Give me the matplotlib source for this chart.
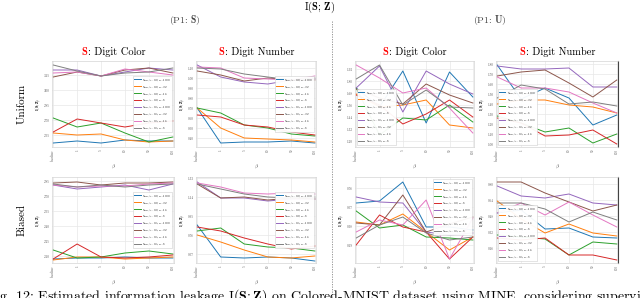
import matplotlib.pyplot as plt
from matplotlib.offsetbox import TextArea, HPacker, AnchoredOffsetbox
from matplotlib.lines import Line2D
from matplotlib.ticker import MultipleLocator, FormatStrFormatter

plt.rcParams['font.family'] = ['cmr10', 'DejaVu Serif']
plt.rcParams['mathtext.fontset'] = 'cm'
plt.rcParams['axes.formatter.use_mathtext'] = True

# x axis (beta) and legend entries
betas = ['baseline', '1', '5', '10', '50', '100']
labels = [r'Sup, $\lambda$=0.0, n=1000', r'Sup, $\lambda$=0.0, n=32',
          r'Sup, $\lambda$=0.0, n=16', r'Sup, $\lambda$=0.0, n=8',
          r'Sup, $\lambda$=0.5, n=1000', r'Sup, $\lambda$=0.5, n=32',
          r'Sup, $\lambda$=0.5, n=16', r'Sup, $\lambda$=0.5, n=8']
colors = ['#1f77b4', '#ff7f0e', '#2ca02c', '#d62728',
          '#9467bd', '#8c564b', '#e377c2', '#7f7f7f']

# Uniform, P1:S, S = digit color
uni_s_color = [
    [2.47, 2.49, 2.47, 2.50, 2.49, 2.49],
    [2.57, 2.55, 2.56, 2.50, 2.48, 2.49],
    [2.72, 2.63, 2.67, 2.57, 2.48, 2.53],
    [2.58, 2.71, 2.67, 2.63, 2.67, 2.69],
    [3.20, 3.20, 3.14, 3.18, 3.22, 3.20],
    [3.13, 3.18, 3.14, 3.20, 3.22, 3.17],
    [3.17, 3.18, 3.14, 3.21, 3.18, 3.15],
    [3.25, 3.19, 3.14, 3.17, 3.18, 3.22],
]
# Uniform, P1:S, S = digit number
uni_s_number = [
    [0.70, 0.35, 0.36, 0.36, 0.37, 0.35],
    [0.70, 0.50, 0.40, 0.39, 0.38, 0.36],
    [0.70, 0.65, 0.53, 0.50, 0.44, 0.42],
    [0.63, 0.61, 0.53, 0.51, 0.46, 0.43],
    [1.13, 1.01, 0.96, 0.94, 0.98, 0.99],
    [1.07, 1.03, 0.97, 1.00, 0.98, 0.98],
    [1.11, 1.10, 1.00, 0.99, 0.98, 1.02],
    [1.10, 1.09, 1.04, 1.01, 0.98, 1.00],
]
# Uniform, P1:U, S = digit color
uni_u_color = [
    [1.73, 1.54, 1.90, 1.38, 1.89, 1.64],
    [1.67, 1.54, 1.56, 1.61, 1.36, 1.33],
    [1.73, 1.26, 1.43, 1.41, 1.56, 1.39],
    [1.66, 1.56, 1.37, 1.47, 1.61, 1.44],
    [1.73, 1.95, 1.49, 1.90, 1.77, 1.67],
    [1.72, 1.63, 1.57, 1.77, 1.66, 1.58],
    [1.96, 1.83, 1.68, 1.73, 1.53, 1.28],
    [1.82, 1.96, 1.56, 1.71, 1.54, 1.53],
]
# Uniform, P1:U, S = digit number
uni_u_number = [
    [1.79, 1.45, 1.56, 1.46, 1.19, 1.29],
    [1.40, 1.44, 1.44, 1.39, 1.37, 1.31],
    [1.28, 1.21, 1.12, 1.16, 1.01, 1.10],
    [1.26, 1.21, 1.08, 1.09, 1.14, 1.00],
    [1.78, 1.75, 1.75, 1.76, 1.57, 1.57],
    [1.68, 1.72, 1.74, 1.61, 1.47, 1.64],
    [1.67, 1.56, 1.56, 1.52, 1.41, 1.31],
    [1.46, 1.59, 1.55, 1.40, 1.42, 1.38],
]
# Biased, P1:S, S = digit color
bia_s_color = [
    [2.07, 2.08, 2.08, 2.09, 2.08, 2.08],
    [2.06, 2.09, 2.09, 2.07, 2.08, 2.09],
    [2.16, 2.08, 2.09, 2.13, 2.15, 2.12],
    [2.07, 2.22, 2.09, 2.08, 2.09, 2.11],
    [2.81, 2.77, 2.79, 2.81, 2.76, 2.82],
    [2.83, 2.84, 2.81, 2.83, 2.83, 2.84],
    [2.81, 2.79, 2.80, 2.80, 2.82, 2.83],
    [2.82, 2.79, 2.81, 2.79, 2.81, 2.82],
]
# Biased, P1:S, S = digit number
bia_s_number = [
    [0.86, 0.54, 0.53, 0.54, 0.53, 0.50],
    [0.76, 0.69, 0.61, 0.54, 0.53, 0.55],
    [0.80, 0.83, 0.67, 0.64, 0.63, 0.60],
    [0.84, 0.80, 0.73, 0.67, 0.62, 0.65],
    [1.29, 1.13, 1.13, 1.10, 1.12, 1.12],
    [1.27, 1.13, 1.14, 1.11, 1.13, 1.12],
    [1.28, 1.24, 1.18, 1.17, 1.18, 1.17],
    [1.27, 1.22, 1.17, 1.14, 1.13, 1.14],
]
# Biased, P1:U, S = digit color
bia_u_color = [
    [0.61, 0.63, 0.82, 0.37, 0.37, 0.34],
    [0.42, 0.39, 0.50, 0.32, 0.14, 0.27],
    [0.53, 0.36, 0.39, 0.27, 0.26, 0.24],
    [0.19, 0.49, 0.37, 0.32, 0.05, 0.27],
    [0.67, 0.62, 0.61, 0.32, 0.29, 0.31],
    [0.41, 0.39, 0.69, 0.32, 0.40, 0.47],
    [0.32, 0.44, 0.39, 0.64, 0.05, 0.46],
    [0.26, 0.39, 0.47, 0.31, 0.24, 0.27],
]
# Biased, P1:U, S = digit number
bia_u_number = [
    [0.51, 0.54, 0.35, 0.36, 0.27, 0.26],
    [0.63, 0.45, 0.31, 0.40, 0.31, 0.28],
    [0.29, 0.27, 0.25, 0.09, 0.22, 0.20],
    [0.26, 0.24, 0.26, 0.09, 0.09, 0.04],
    [0.78, 0.68, 0.66, 0.70, 0.61, 0.59],
    [0.82, 0.82, 0.71, 0.62, 0.53, 0.59],
    [0.51, 0.61, 0.49, 0.62, 0.49, 0.37],
    [0.61, 0.61, 0.55, 0.42, 0.52, 0.44],
]

panels = [uni_s_color, uni_s_number, uni_u_color, uni_u_number,
          bia_s_color, bia_s_number, bia_u_color, bia_u_number]
y_lims = [(2.43, 3.29), (0.31, 1.17), (1.14, 2.00), (0.97, 1.83),
          (2.03, 2.89), (0.48, 1.34), (0.01, 0.87), (0.01, 0.87)]
y_steps = [0.15, 0.1, 0.12, 0.1, 0.15, 0.19, 0.19, 0.16]
leg_locs = ['center right', 'center right', 'lower left', 'lower left',
            'center right', 'center right', 'upper right', 'lower left']
col_titles = [': Digit Color', ': Digit Number', ': Digit Color', ': Digit Number']

W, H = 640, 298
fig = plt.figure(figsize=(W / 100, H / 100), dpi=100)

# axes boxes in pixels
col_px = [(52, 122), (196, 120), (355, 119), (496, 122)]
row_px = [61, 177]
ax_h = 86

for i, data in enumerate(panels):
    r, c = divmod(i, 4)
    left, width = col_px[c]
    top = row_px[r]
    ax = fig.add_axes([left / W, 1 - (top + ax_h) / H, width / W, ax_h / H])
    for k, ys in enumerate(data):
        ax.plot(range(len(betas)), ys, color=colors[k], lw=0.7, label=labels[k])
    ax.set_xlim(-0.05, 5.05)
    ax.set_ylim(*y_lims[i])
    ax.yaxis.set_major_locator(MultipleLocator(y_steps[i]))
    ax.yaxis.set_major_formatter(FormatStrFormatter('%.2f'))
    ax.set_xticks(range(len(betas)))
    ax.set_xticklabels(betas, rotation=90)
    ax.tick_params(length=0, labelsize=2.4, pad=1.5, labelcolor='#555555')
    ax.grid(True, color='#e8e8e8', lw=0.5)
    ax.set_axisbelow(True)
    for sp in ax.spines.values():
        sp.set_color('#d5d5d5')
        sp.set_linewidth(0.5)
    if c == 3:
        ax.spines['right'].set_color('#444444')
        ax.spines['right'].set_linewidth(0.8)
    ax.set_ylabel(r'$\mathrm{I}(\mathbf{S};\mathbf{Z})$', fontsize=3, labelpad=1.5)
    ax.set_xlabel(r'$\beta$', fontsize=3.5, labelpad=1.5)
    leg = ax.legend(loc=leg_locs[i], fontsize=2.2, handlelength=2.2,
                    labelspacing=0.35, borderpad=0.4, handletextpad=0.6,
                    frameon=True, framealpha=0.95, edgecolor='#cccccc')
    leg.get_frame().set_linewidth(0.4)
    if r == 0:
        title = HPacker(children=[
            TextArea(r'$\mathbf{S}$', textprops=dict(color='red', fontsize=7.5)),
            TextArea(col_titles[c], textprops=dict(fontsize=7.5)),
        ], align='baseline', pad=0, sep=0)
        ab = AnchoredOffsetbox(loc='lower center', child=title, pad=0, borderpad=0,
                               bbox_to_anchor=(0.5, 1.05), bbox_transform=ax.transAxes,
                               frameon=False)
        ax.add_artist(ab)

fig.text(320 / W, 1 - 7 / H, r'$\mathrm{I}(\mathbf{S};\,\mathbf{Z})$',
         ha='center', va='center', fontsize=7.5)
fig.text(185 / W, 1 - 20 / H, r'(P1: $\mathbf{S}$)', ha='center', va='center',
         fontsize=7, color='#444444')
fig.text(490 / W, 1 - 20 / H, r'(P1: $\mathbf{U}$)', ha='center', va='center',
         fontsize=7, color='#444444')
fig.text(22 / W, 1 - 104 / H, 'Uniform', rotation=90, ha='center', va='center', fontsize=8)
fig.text(22 / W, 1 - 220 / H, 'Biased', rotation=90, ha='center', va='center', fontsize=8)

fig.add_artist(Line2D([332 / W, 332 / W], [1 - 21 / H, 0], color='#888888',
                      lw=0.6, ls=(0, (1.5, 1.5))))

# caption, clipped by the figure edges as in the source
fig.text(-13 / W, -2 / H,
         r'Fig. 12: Estimated information leakage $\mathrm{I}(\mathbf{S};\mathbf{Z})$ on '
         r'Colored-MNIST dataset using MINE, considering supervised and unsupervised settings.',
         ha='left', va='baseline', fontsize=10)

fig.savefig('out.png', dpi=100)
